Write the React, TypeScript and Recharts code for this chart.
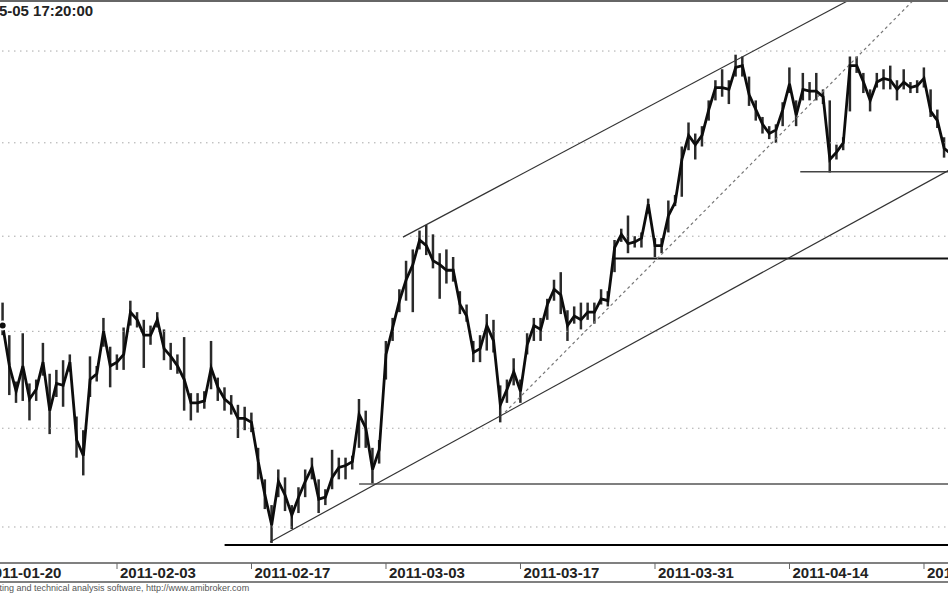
import React from 'react';
import { ComposedChart, Line, Bar, XAxis, YAxis, ReferenceLine } from 'recharts';

// intraday index, sampled every half session; x = trading days after 2011-01-20
const FIRST_DAY = 1;
const STEP = 0.5;

const closes = [
  2706, 2703, 2682, 2669, 2682, 2665, 2670, 2684, 2659, 2673,
  2672, 2684, 2644, 2636, 2675, 2678, 2700, 2682, 2684, 2688,
  2710, 2706, 2698, 2698, 2706, 2691, 2687, 2682, 2675, 2663,
  2663, 2664, 2681, 2671, 2665, 2662, 2655, 2655, 2653, 2633,
  2616, 2601, 2623, 2616, 2606, 2615, 2623, 2630, 2614, 2615,
  2625, 2630, 2631, 2633, 2657, 2650, 2629, 2639, 2688, 2702,
  2716, 2727, 2735, 2748, 2745, 2737, 2735, 2732, 2732, 2714,
  2708, 2689, 2691, 2703, 2695, 2662, 2670, 2679, 2669, 2693,
  2703, 2701, 2714, 2722, 2719, 2703, 2708, 2706, 2710, 2710,
  2717, 2716, 2744, 2751, 2746, 2747, 2749, 2767, 2745, 2745,
  2761, 2768, 2791, 2804, 2799, 2804, 2818, 2830, 2830, 2829,
  2841, 2842, 2826, 2818, 2810, 2805, 2807, 2818, 2832, 2815,
  2829, 2828, 2828, 2825, 2791, 2795, 2800, 2842, 2842, 2833,
  2823, 2833, 2835, 2834, 2829, 2833, 2830, 2831, 2835, 2817,
  2812, 2797, 2794,
];

const highs = [
  2714, 2715, 2698, 2674, 2699, 2673, 2675, 2694, 2678, 2680,
  2685, 2688, 2656, 2649, 2687, 2682, 2707, 2692, 2688, 2702,
  2716, 2710, 2706, 2703, 2710, 2701, 2694, 2688, 2697, 2668,
  2668, 2669, 2695, 2676, 2671, 2667, 2662, 2661, 2658, 2640,
  2624, 2611, 2629, 2625, 2611, 2620, 2629, 2635, 2624, 2619,
  2639, 2635, 2635, 2636, 2665, 2659, 2640, 2644, 2695, 2707,
  2722, 2737, 2743, 2753, 2756, 2751, 2741, 2743, 2739, 2721,
  2714, 2695, 2698, 2709, 2706, 2672, 2675, 2686, 2675, 2699,
  2707, 2707, 2717, 2727, 2731, 2711, 2713, 2715, 2715, 2715,
  2722, 2721, 2748, 2754, 2761, 2750, 2752, 2770, 2749, 2749,
  2769, 2772, 2798, 2811, 2805, 2809, 2823, 2834, 2840, 2834,
  2848, 2847, 2836, 2823, 2814, 2809, 2810, 2822, 2841, 2823,
  2838, 2833, 2838, 2829, 2823, 2799, 2803, 2847, 2847, 2838,
  2829, 2838, 2840, 2842, 2834, 2840, 2833, 2834, 2841, 2829,
  2818, 2803, 2797,
];

const lows = [
  2699, 2698, 2667, 2663, 2664, 2654, 2664, 2677, 2647, 2666,
  2661, 2679, 2635, 2626, 2666, 2674, 2692, 2671, 2680, 2680,
  2703, 2702, 2681, 2693, 2702, 2685, 2680, 2678, 2659, 2654,
  2658, 2660, 2670, 2664, 2659, 2657, 2645, 2649, 2648, 2624,
  2609, 2592, 2615, 2608, 2599, 2607, 2615, 2624, 2607, 2611,
  2619, 2624, 2624, 2629, 2640, 2640, 2622, 2632, 2675, 2695,
  2710, 2716, 2710, 2743, 2740, 2733, 2717, 2725, 2726, 2709,
  2705, 2684, 2684, 2690, 2689, 2653, 2663, 2672, 2663, 2688,
  2695, 2695, 2706, 2716, 2709, 2695, 2704, 2701, 2706, 2704,
  2714, 2713, 2731, 2747, 2741, 2744, 2744, 2762, 2739, 2741,
  2752, 2766, 2771, 2796, 2791, 2798, 2812, 2823, 2825, 2821,
  2836, 2836, 2820, 2812, 2805, 2802, 2800, 2809, 2827, 2809,
  2823, 2823, 2823, 2821, 2784, 2791, 2796, 2817, 2838, 2827,
  2817, 2830, 2829, 2829, 2823, 2829, 2827, 2827, 2830, 2814,
  2808, 2792, 2791,
];

const tickDays = [0, 10, 20, 30, 40, 50, 60, 70];
const tickLabels = [
  '2011-01-20', '2011-02-03', '2011-02-17', '2011-03-03',
  '2011-03-17', '2011-03-31', '2011-04-14', '2011-04-28',
];

const gridLevels = [2600, 2650, 2700, 2750, 2800, 2850];

// horizontal support levels: start day, level
const supportStarts = [18.0, 28.0, 46.8, 60.8];
const supportLevels = [2591, 2621.7, 2738.2, 2784.4];

// trend lines as [day, level] pairs
const lowerTrend = [[21.38, 2592.5], [72.0, 2785.8]];
const upperTrend = [[31.26, 2749.5], [64.3, 2877.6]];
const midTrend = [[38.85, 2658.2], [69.15, 2877.6]];

const X_DOMAIN: [number, number] = [-1.673, 75.651];
const Y_DOMAIN: [number, number] = [2582.0, 2878.2];

const rows = closes.map((c, i) => ({
  t: FIRST_DAY + i * STEP,
  close: c,
  range: [lows[i], highs[i]],
}));

const seg = (pts: number[][]) => pts.map(([x, y]) => ({ x, y }));

function DateTick(props: any) {
  const { x, payload } = props;
  const idx = tickDays.indexOf(payload.value);
  return (
    <g>
      <line x1={x} y1={563} x2={x} y2={569} stroke="#666" strokeWidth={1} />
      <text x={x + 3} y={578} fontSize={15} fontWeight="bold" fill="#222"
        fontFamily='"Liberation Sans", Arial, sans-serif'>
        {tickLabels[idx]}
      </text>
    </g>
  );
}

export default function App() {
  return (
    <div style={{ position: 'absolute', left: 0, top: 0, width: 948, height: 593, overflow: 'hidden', background: '#fff' }}>
      <div style={{ position: 'absolute', left: -40, top: 0 }}>
        <ComposedChart width={1040} height={593} data={rows} margin={{ top: 0, right: 0, bottom: 0, left: 0 }}>
          <XAxis type="number" dataKey="t" domain={X_DOMAIN} allowDataOverflow ticks={tickDays} interval={0}
            height={30} tickLine={false} axisLine={{ stroke: '#808080', strokeWidth: 2 }} tick={<DateTick />} />
          <YAxis hide type="number" scale="log" domain={Y_DOMAIN} allowDataOverflow />
          {gridLevels.map((v) => (
            <ReferenceLine key={v} y={v} stroke="#a8a8a8" strokeDasharray="1.5 4.5" strokeWidth={1} />
          ))}
          <ReferenceLine segment={[{ x: supportStarts[0], y: supportLevels[0] }, { x: X_DOMAIN[1], y: supportLevels[0] }]}
            stroke="#000" strokeWidth={2} ifOverflow="hidden" />
          <ReferenceLine segment={[{ x: supportStarts[1], y: supportLevels[1] }, { x: X_DOMAIN[1], y: supportLevels[1] }]}
            stroke="#555" strokeWidth={1.5} ifOverflow="hidden" />
          <ReferenceLine segment={[{ x: supportStarts[2], y: supportLevels[2] }, { x: X_DOMAIN[1], y: supportLevels[2] }]}
            stroke="#111" strokeWidth={2} ifOverflow="hidden" />
          <ReferenceLine segment={[{ x: supportStarts[3], y: supportLevels[3] }, { x: X_DOMAIN[1], y: supportLevels[3] }]}
            stroke="#444" strokeWidth={1.5} ifOverflow="hidden" />
          <ReferenceLine segment={seg(lowerTrend)} stroke="#333" strokeWidth={1.2} ifOverflow="hidden" />
          <ReferenceLine segment={seg(upperTrend)} stroke="#333" strokeWidth={1.2} ifOverflow="hidden" />
          <ReferenceLine segment={seg(midTrend)} stroke="#777" strokeWidth={1.2} strokeDasharray="3 3" ifOverflow="hidden" />
          <Bar dataKey="range" barSize={2.5} fill="#2a2a2a" isAnimationActive={false} />
          <Line dataKey="close" type="linear" stroke="#0d0d0d" strokeWidth={2.8} dot={false} isAnimationActive={false} />
        </ComposedChart>
      </div>
      <svg width={948} height={593} style={{ position: 'absolute', left: 0, top: 0, pointerEvents: 'none' }}
        fontFamily='"Liberation Sans", Arial, sans-serif'>
        <line x1={0} y1={1} x2={948} y2={1} stroke="#666" strokeWidth={2} />
        <text x={-47} y={16} fontSize={15} fontWeight="bold" fill="#222">2011-05-05 17:20:00</text>
        <line x1={0} y1={582} x2={948} y2={582} stroke="#808080" strokeWidth={2} />
        <text x={-68} y={591} fontSize={9} fill="#555">
          AmiBroker - charting and technical analysis software, http://www.amibroker.com
        </text>
      </svg>
    </div>
  );
}
